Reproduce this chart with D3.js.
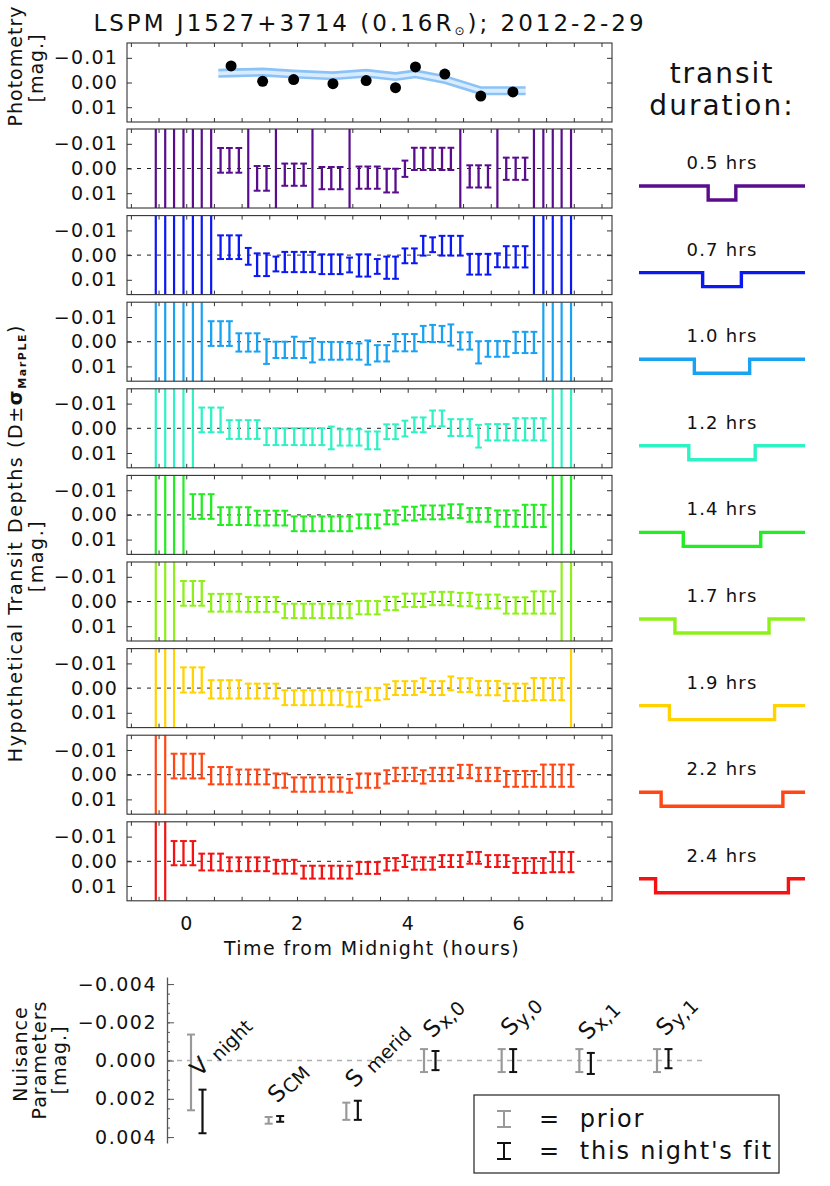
<!DOCTYPE html>
<html>
<head>
<meta charset="utf-8">
<script src="https://cdn.jsdelivr.net/npm/d3@7"></script>
<style>
  body { margin: 0; background: #fff; }
  svg text { font-family: "DejaVu Sans", sans-serif; fill: #111; }
</style>
</head>
<body>
<svg id="chart" width="830" height="1186"></svg>
<script>
// 10-minute grid of hypothetical mid-transit times (hours from midnight)
const hours = [-0.55,-0.38,-0.22,-0.05,0.12,0.28,0.45,0.62,0.78,0.95,1.12,1.28,1.45,1.62,1.78,1.95,
  2.12,2.28,2.45,2.62,2.78,2.95,3.12,3.28,3.45,3.62,3.78,3.95,4.12,4.28,4.45,4.62,4.78,4.95,
  5.12,5.28,5.45,5.62,5.78,5.95,6.12,6.28,6.45,6.62,6.78,6.95];

const durations = [0.5, 0.7, 1.0, 1.2, 1.4, 1.7, 1.9, 2.2, 2.4];
const colors = ["#5a0c8e", "#0a18f2", "#1aa2f2", "#2ef2c4", "#22ec22", "#8ef018", "#ffd200", "#ff4614", "#f41212"];

// depths and 1-sigma errors in mmag; null = not constrained (drawn as a full-height line)
const depth05 = [null,null,null,null,null,null,null,-3.3,-3.3,-3.3,null,4.0,4.0,null,2.5,2.5,2.5,null,3.9,3.9,3.9,null,3.7,3.7,3.7,4.9,4.9,0.1,-3.9,-3.9,-3.9,-3.9,-3.9,null,3.2,3.2,3.2,null,0.1,0.1,0.1,null,null,null,null,null];
const err05   = [null,null,null,null,null,null,null,5.0,5.0,5.0,null,5.0,5.0,null,4.5,4.5,4.5,null,4.5,4.5,4.5,null,4.5,4.5,4.5,4.8,4.8,3.3,4.5,4.5,4.5,4.5,4.5,null,4.5,4.5,4.5,null,4.5,4.5,4.5,null,null,null,null,null];
const depth07 = [null,null,null,null,null,null,null,-3.2,-3.2,-3.2,0.5,3.9,3.9,3.6,2.8,2.8,2.8,2.8,3.7,3.7,3.7,4.0,4.2,4.2,4.6,5.1,5.1,0.3,0.3,-3.8,-4.2,-3.8,-3.8,-3.8,3.7,3.7,3.7,2.1,0.7,0.7,0.7,null,null,null,null,null];
const err07   = [null,null,null,null,null,null,null,4.8,4.8,4.8,3.4,4.6,4.6,3.0,4.1,4.1,4.1,4.1,4.0,4.0,4.0,3.0,4.5,4.5,3.0,4.5,4.5,3.0,3.0,4.0,3.0,4.0,4.0,4.0,4.2,4.2,4.2,2.8,4.3,4.3,4.3,null,null,null,null,null];
const depth10 = [null,null,null,null,null,null,-3.3,-3.3,-3.3,0.3,0.3,0.3,4.0,3.3,3.3,2.3,3.3,3.5,3.7,3.7,3.7,3.9,4.0,4.4,4.7,4.7,0.4,0.4,0.4,-3.1,-3.3,-3.1,-2.7,-0.3,-0.3,4.3,2.9,2.9,2.9,0.3,0.3,0.3,null,null,null,null];
const err10   = [null,null,null,null,null,null,5.0,5.0,5.0,3.7,3.7,3.7,5.0,3.3,3.3,4.3,3.3,4.9,3.6,3.6,3.6,3.3,3.3,4.9,3.3,3.3,3.5,3.5,3.5,3.3,3.5,3.3,4.3,3.5,3.5,4.5,3.2,3.2,3.2,4.3,4.3,4.3,null,null,null,null];
const depth12 = [null,null,null,null,null,-3.4,-3.4,-3.4,0.5,0.5,0.5,0.5,3.4,3.4,3.4,3.4,3.4,3.4,3.4,3.9,3.7,3.7,3.7,4.9,4.9,1.4,1.4,0.1,-1.4,-1.4,-4.0,-4.0,-0.3,-0.3,-0.3,3.2,1.6,1.6,1.6,0.4,0.4,0.4,0.4,null,null,null];
const err12   = [null,null,null,null,null,5.0,5.0,5.0,3.8,3.8,3.8,3.8,3.4,3.4,3.4,3.4,3.4,3.4,3.4,4.6,3.3,3.3,3.3,3.6,3.6,3.0,3.0,3.2,3.0,3.0,3.2,3.2,3.4,3.4,3.4,4.6,3.3,3.3,3.3,4.5,4.5,4.5,4.5,null,null,null];
const depth14 = [null,null,null,null,-3.4,-3.4,-3.4,0.5,0.5,0.5,0.5,1.3,1.3,1.3,1.3,3.6,3.6,3.6,3.6,3.6,3.6,3.6,2.6,2.6,2.6,1.0,1.0,-0.5,-0.5,-1.0,-1.0,-1.0,-1.5,-1.5,0.0,0.0,0.0,1.5,1.5,1.5,0.4,0.4,0.4,null,null,null];
const err14   = [null,null,null,null,5.0,5.0,5.0,3.6,3.6,3.6,3.6,3.0,3.0,3.0,3.0,3.0,3.0,3.0,3.0,3.0,3.0,3.0,2.8,2.8,2.8,2.8,2.8,2.8,2.8,2.8,2.8,2.8,2.8,2.8,2.8,2.8,2.8,3.3,3.3,3.3,4.5,4.5,4.5,null,null,null];
const depth17 = [null,null,null,-3.3,-3.3,-3.3,0.5,0.5,0.5,0.5,1.2,1.2,1.2,1.2,3.8,3.8,3.8,3.8,3.8,3.8,3.8,3.8,2.5,2.5,2.5,0.8,0.8,-0.5,-0.5,-0.5,-1.2,-1.2,-1.2,-0.8,-0.8,0.0,0.0,0.0,1.6,1.6,1.6,0.4,0.4,0.4,null,null];
const err17   = [null,null,null,5.0,5.0,5.0,3.6,3.6,3.6,3.6,3.0,3.0,3.0,3.0,2.9,2.9,2.9,2.9,2.9,2.9,2.9,2.9,2.7,2.7,2.7,2.7,2.7,2.7,2.7,2.7,2.7,2.7,2.7,2.7,2.7,2.8,2.8,2.8,3.3,3.3,3.3,4.5,4.5,4.5,null,null];
const depth19 = [null,null,null,-3.3,-3.3,-3.3,0.5,0.5,0.5,0.5,1.2,1.2,1.2,1.2,3.9,3.9,3.9,3.9,3.9,3.9,3.9,4.5,4.5,2.4,2.4,1.5,0.0,0.0,0.0,-1.2,0.0,0.0,-1.9,-1.2,-1.2,0.0,0.0,0.0,1.7,1.7,1.7,0.4,0.4,0.4,0.4,null];
const err19   = [null,null,null,5.1,5.1,5.1,3.7,3.7,3.7,3.7,3.0,3.0,3.0,3.0,3.0,3.0,3.0,3.0,3.0,3.0,3.0,3.0,3.0,2.5,2.5,3.0,2.8,2.8,2.8,2.8,2.8,2.8,2.8,2.8,2.8,2.9,2.9,2.9,3.5,3.5,3.5,4.5,4.5,4.5,4.5,null];
const depth22 = [null,null,-3.5,-3.5,-3.5,-3.5,0.4,0.4,0.4,0.9,0.9,0.9,0.9,2.4,2.4,4.0,4.0,4.0,4.0,4.0,4.0,4.5,2.4,2.4,2.4,0.9,-0.1,-0.1,-0.1,0.9,-0.1,-0.1,-0.1,-1.3,-1.3,-0.1,-0.1,-0.1,1.7,1.7,1.7,1.7,0.4,0.4,0.4,0.4];
const err22   = [null,null,5.0,5.0,5.0,5.0,3.5,3.5,3.5,3.0,3.0,3.0,3.0,2.9,2.9,2.9,2.9,2.9,2.9,2.9,2.9,2.8,2.9,2.9,2.9,2.7,2.7,2.7,2.7,2.7,2.7,2.7,2.7,2.7,2.7,2.7,2.7,2.7,3.2,3.2,3.2,3.2,4.5,4.5,4.5,4.5];
const depth24 = [null,null,-3.3,-3.3,-3.3,0.3,0.3,0.3,1.2,1.2,1.2,1.2,1.2,2.2,2.2,2.2,4.4,4.4,4.4,4.4,4.4,4.4,2.7,2.7,2.7,1.2,1.2,-0.1,0.9,0.9,0.9,-0.1,-0.1,-0.1,-1.4,-1.4,-0.1,-0.1,-0.1,1.7,1.7,1.7,1.7,0.3,0.3,0.3];
const err24   = [null,null,4.9,4.9,4.9,3.4,3.4,3.4,2.8,2.8,2.8,2.8,2.8,2.8,2.8,2.8,2.6,2.6,2.6,2.6,2.6,2.6,2.4,2.4,2.4,2.5,2.5,2.4,2.5,2.5,2.5,2.4,2.4,2.4,2.4,2.4,2.4,2.4,2.4,3.0,3.0,3.0,3.0,4.1,4.1,4.1];

// photometry: binned points and model band centre (mmag)
const photHours = [0.81, 1.38, 1.94, 2.65, 3.25, 3.78, 4.14, 4.67, 5.32, 5.90];
const photMag = [-6.7, -0.5, -1.2, 0.5, -0.8, 2.1, -6.3, -3.4, 5.5, 3.8];
const bandHours = [0.58, 0.81, 1.38, 1.94, 2.65, 3.25, 3.78, 4.14, 4.67, 5.32, 5.90, 6.13];
const bandMag = [-3.7, -3.9, -4.2, -3.4, -2.7, -3.7, -2.4, -3.5, -1.2, 3.3, 3.35, 3.35];
const bandHalf = 1.3;

// nuisance parameters (units of 0.001 mag)
const nuisMain = ["V", "S", "S", "S", "S", "S", "S"];
const nuisSub = ["night", "CM", "merid", "x,0", "y,0", "x,1", "y,1"];
const priorLo = [-1.36, 2.95, 2.2, -0.6, -0.6, -0.6, -0.6];
const priorHi = [2.6, 3.3, 3.1, 0.6, 0.6, 0.6, 0.6];
const fitLo = [1.52, 2.9, 2.1, -0.5, -0.6, -0.4, -0.6];
const fitHi = [3.8, 3.2, 3.1, 0.5, 0.6, 0.7, 0.4];

const yTicks = [-10, 0, 10];
const xMinorTicks = [-1, -0.5, 0, 0.5, 1, 1.5, 2, 2.5, 3, 3.5, 4, 4.5, 5, 5.5, 6, 6.5, 7, 7.5];
const xTickLabels = [0, 2, 4, 6];
const nuisTicks = [-4, -2, 0, 2, 4];
const nuisMinor = [-4, -3.5, -3, -2.5, -2, -1.5, -1, -0.5, 0, 0.5, 1, 1.5, 2, 2.5, 3, 3.5, 4];

const depths = [depth05, depth07, depth10, depth12, depth14, depth17, depth19, depth22, depth24];
const errs = [err05, err07, err10, err12, err14, err17, err19, err22, err24];

const svg = d3.select("#chart");
const x = d3.scaleLinear().domain([-1.07, 7.69]).range([127, 612]);
const panelH = 79, photTop = 43, firstTop = 129, pitch = 86.6;
const fmtMag = d => d3.format(".2f")(d / 1000);

function drawFrame(g, y) {
  const [x0, x1] = x.range();
  const [y0, y1] = y.range();
  g.append("g").attr("transform", `translate(${x0},0)`)
    .call(d3.axisLeft(y).tickValues(yTicks).tickSizeInner(-5).tickSizeOuter(0).tickPadding(9).tickFormat(fmtMag))
    .call(a => { a.select(".domain").remove(); a.attr("font-size", 19).attr("font-family", null); a.selectAll("text").style("letter-spacing", "1.2px"); });
  g.append("g").attr("transform", `translate(${x1},0)`)
    .call(d3.axisRight(y).tickValues(yTicks).tickSizeInner(-5).tickSizeOuter(0).tickFormat(""))
    .call(a => a.select(".domain").remove());
  g.append("g").attr("transform", `translate(0,${y0})`)
    .call(d3.axisTop(x).tickValues(xMinorTicks).tickSizeInner(-4).tickSizeOuter(0).tickFormat(""))
    .call(a => a.select(".domain").remove());
  g.append("g").attr("transform", `translate(0,${y1})`)
    .call(d3.axisBottom(x).tickValues(xMinorTicks).tickSizeInner(-4).tickSizeOuter(0).tickFormat(""))
    .call(a => a.select(".domain").remove());
  g.selectAll(".tick line").attr("stroke", "#333");
  g.append("rect").attr("x", x0).attr("y", y0).attr("width", x1 - x0).attr("height", y1 - y0)
    .attr("fill", "none").attr("stroke", "#333").attr("stroke-width", 1.1);
}

// title
const title = svg.append("text").attr("x", 370).attr("y", 31).attr("text-anchor", "middle")
  .attr("font-size", 23).style("letter-spacing", "3px");
title.append("tspan").text("LSPM J1527+3714 (0.16R");
title.append("tspan").attr("font-size", 12).attr("dy", 4).text("⊙");
title.append("tspan").attr("dy", -4).text("); 2012-2-29");

// photometry panel
const gP = svg.append("g");
const yP = d3.scaleLinear().domain([-16, 16]).range([photTop, photTop + panelH]);
const band = bandHours.map((h, i) => ({ h, m: bandMag[i] }));
gP.append("path").datum(band).attr("fill", "#d9ecff")
  .attr("d", d3.area().x(d => x(d.h)).y0(d => yP(d.m - bandHalf)).y1(d => yP(d.m + bandHalf)));
[-bandHalf, bandHalf].forEach(off => {
  gP.append("path").datum(band).attr("fill", "none").attr("stroke", "#8cc3f7").attr("stroke-width", 2.6)
    .attr("d", d3.line().x(d => x(d.h)).y(d => yP(d.m + off)));
});
gP.selectAll("circle").data(photHours).join("circle")
  .attr("cx", d => x(d)).attr("cy", (d, i) => yP(photMag[i])).attr("r", 5.5).attr("fill", "#000");
drawFrame(gP, yP);

// transit panels
durations.forEach((dur, p) => {
  const top = firstTop + p * pitch;
  const y = d3.scaleLinear().domain([-16, 16]).range([top, top + panelH]);
  const g = svg.append("g");
  const col = colors[p];
  g.append("line").attr("x1", x.range()[0]).attr("x2", x.range()[1]).attr("y1", y(0)).attr("y2", y(0))
    .attr("stroke", "#222").attr("stroke-width", 1).attr("stroke-dasharray", "4,6");
  hours.forEach((h, i) => {
    const d = depths[p][i], e = errs[p][i];
    const cx = x(h);
    if (d === null) {
      g.append("line").attr("x1", cx).attr("x2", cx).attr("y1", y.range()[0]).attr("y2", y.range()[1])
        .attr("stroke", col).attr("stroke-width", 2.2);
      return;
    }
    const lo = y(d - e), hi = y(d + e);
    g.append("line").attr("x1", cx).attr("x2", cx).attr("y1", lo).attr("y2", hi).attr("stroke", col).attr("stroke-width", 2.3);
    [lo, hi].forEach(v => g.append("line").attr("x1", cx - 3.4).attr("x2", cx + 3.4).attr("y1", v).attr("y2", v)
      .attr("stroke", col).attr("stroke-width", 2));
  });
  drawFrame(g, y);

  // legend: duration label and box-shaped transit
  const legX = d3.scaleLinear().domain([-1.5, 1.5]).range([639, 805]);
  const base = top + 57, dip = top + 71;
  svg.append("text").attr("x", 722).attr("y", top + 40).attr("text-anchor", "middle")
    .attr("font-size", 18).style("letter-spacing", "1.2px").text(`${dur.toFixed(1)} hrs`);
  svg.append("path").attr("fill", "none").attr("stroke", col).attr("stroke-width", 3.4)
    .attr("d", `M${legX(-1.5)},${base}H${legX(-dur / 2)}V${dip}H${legX(dur / 2)}V${base}H${legX(1.5)}`);

  if (p === durations.length - 1) {
    g.selectAll(".xlab").data(xTickLabels).join("text")
      .attr("x", d => x(d)).attr("y", top + panelH + 29).attr("text-anchor", "middle").attr("font-size", 19).text(d => d);
    svg.append("text").attr("x", 372).attr("y", top + panelH + 54).attr("text-anchor", "middle")
      .attr("font-size", 19).style("letter-spacing", "1.4px").text("Time from Midnight (hours)");
  }
});

// right header
svg.append("text").attr("x", 722).attr("y", 83).attr("text-anchor", "middle").attr("font-size", 28)
  .style("letter-spacing", "2px").text("transit");
svg.append("text").attr("x", 722).attr("y", 115).attr("text-anchor", "middle").attr("font-size", 28)
  .style("letter-spacing", "2px").text("duration:");

// left axis titles
function vText(tx, ty, size, spacing) {
  return svg.append("text").attr("transform", `translate(${tx},${ty}) rotate(-90)`)
    .attr("text-anchor", "middle").attr("font-size", size).style("letter-spacing", `${spacing || 1}px`);
}
vText(22, 66, 19).text("Photometry");
vText(43, 68, 19).text("[mag.]");
const big = vText(22, 543, 19, 1.6);
big.append("tspan").text("Hypothetical Transit Depths (D±");
big.append("tspan").attr("font-weight", "bold").text("σ");
big.append("tspan").attr("font-size", 11).attr("dy", 4).attr("font-weight", "bold").text("MarPLE");
big.append("tspan").attr("dy", -4).text(")");
vText(43, 556, 19, 1.6).text("[mag.]");

// nuisance parameters panel
const ny = d3.scaleLinear().domain([-4.37, 4.31]).range([977, 1143]);
const nx = d3.scaleLinear().domain([0, 6]).range([191, 657]);
const fitOff = 11.5;
const gN = svg.append("g");
gN.append("line").attr("x1", 167).attr("x2", 705).attr("y1", ny(0)).attr("y2", ny(0))
  .attr("stroke", "#b0b0b0").attr("stroke-width", 1.5).attr("stroke-dasharray", "5,5");
gN.append("g").attr("transform", "translate(167,0)")
  .call(d3.axisLeft(ny).tickValues(nuisMinor).tickSizeInner(-3).tickSizeOuter(0).tickFormat(""))
  .call(a => { a.select(".domain").remove(); a.selectAll("line").attr("stroke", "#555"); });
gN.append("g").attr("transform", "translate(167,0)")
  .call(d3.axisLeft(ny).tickValues(nuisTicks).tickSizeInner(-7).tickSizeOuter(0).tickPadding(10)
    .tickFormat(d => d3.format(".3f")(d / 1000)))
  .call(a => {
    a.attr("font-size", 19).attr("font-family", null);
    a.select(".domain").attr("stroke", "#555").attr("stroke-width", 1.3);
    a.selectAll("line").attr("stroke", "#555");
    a.selectAll("text").style("letter-spacing", "1.5px").attr("fill", "#222");
  });

function nuisBar(cx, lo, hi, col, cap) {
  gN.append("line").attr("x1", cx).attr("x2", cx).attr("y1", ny(lo)).attr("y2", ny(hi)).attr("stroke", col).attr("stroke-width", 2.2);
  [lo, hi].forEach(v => gN.append("line").attr("x1", cx - cap).attr("x2", cx + cap).attr("y1", ny(v)).attr("y2", ny(v))
    .attr("stroke", col).attr("stroke-width", 2));
}
nuisMain.forEach((m, i) => {
  nuisBar(nx(i), priorLo[i], priorHi[i], "#999", 4);
  nuisBar(nx(i) + fitOff, fitLo[i], fitHi[i], "#111", 4);
  // rotated parameter name, anchored just above the fitted bar
  const lab = gN.append("g")
    .attr("transform", `translate(${nx(i) + fitOff - 3},${ny(fitLo[i]) - 12}) rotate(-45)`);
  const t = lab.append("text").attr("x", 0).attr("y", 0).attr("font-size", 23);
  t.append("tspan").text(m);
  t.append("tspan").attr("font-size", 19).attr("dx", i === 0 || i === 2 ? 9 : 1).attr("dy", 3).text(nuisSub[i]);
});

vText(27, 1054, 19).text("Nuisance");
vText(46, 1060, 19).text("Parameters");
vText(66, 1060, 19).text("[mag.]");

// legend box
svg.append("rect").attr("x", 474).attr("y", 1095).attr("width", 305).attr("height", 78)
  .attr("fill", "none").attr("stroke", "#333").attr("stroke-width", 1.3);
[["#999", "prior", 1119], ["#111", "this night's fit", 1151]].forEach(([col, label, cy]) => {
  svg.append("line").attr("x1", 504).attr("x2", 504).attr("y1", cy - 8).attr("y2", cy + 8).attr("stroke", col).attr("stroke-width", 2);
  [cy - 8, cy + 8].forEach(v => svg.append("line").attr("x1", 497).attr("x2", 511).attr("y1", v).attr("y2", v)
    .attr("stroke", col).attr("stroke-width", 2));
  svg.append("text").attr("x", 539).attr("y", cy + 8).attr("font-size", 24).style("letter-spacing", "1.8px")
    .text(`=  ${label}`).attr("xml:space", "preserve");
});
</script>
</body>
</html>
